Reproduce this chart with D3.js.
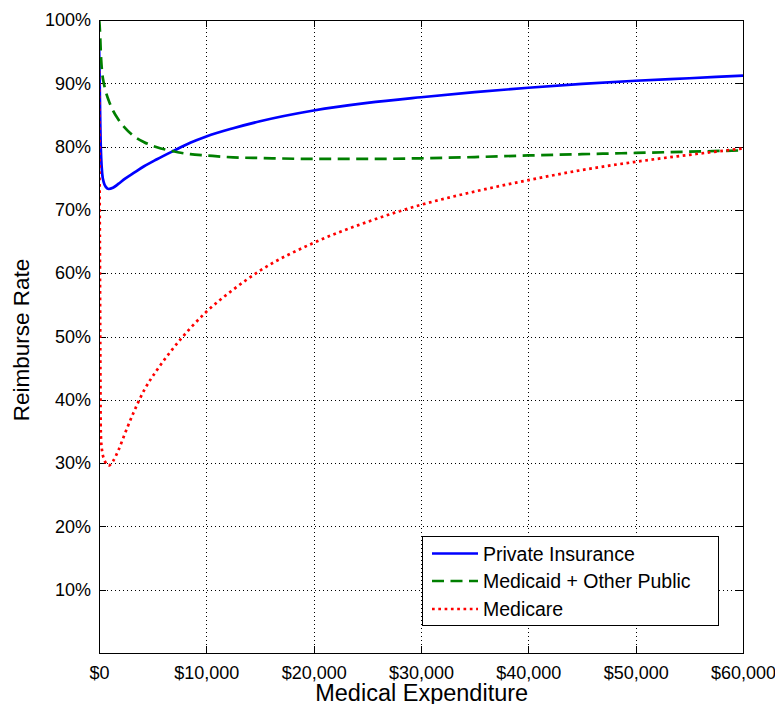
<!DOCTYPE html>
<html>
<head>
<meta charset="utf-8">
<script src="https://cdn.jsdelivr.net/npm/d3@7"></script>
<style>
  html, body { margin: 0; padding: 0; background: #fff; }
  svg { display: block; font-family: "Liberation Sans", Arial, Helvetica, sans-serif; }
</style>
</head>
<body>
<svg id="chart" width="775" height="704"></svg>
<script>
// Medical expenditure grid (USD) shared by every series
const expenditure = [0, 40, 80, 120, 160, 200, 300, 450, 650, 900, 1300, 1800, 2400, 3200, 4200,
  5400, 6800, 8500, 10000, 12500, 15000, 20000, 25000, 30000, 35000, 40000, 45000, 50000, 55000, 60000];

// Reimbursement rate (%) by payer
const privateInsurance = [96.5, 93, 88, 83.5, 80.3, 78.3, 75.7, 74.3, 73.6, 73.3, 73.5, 74.1, 74.9, 75.8, 76.9,
  78.0, 79.2, 80.6, 81.6, 82.9, 84.0, 85.7, 86.9, 87.8, 88.6, 89.3, 89.9, 90.4, 90.8, 91.2];
const medicaidOtherPublic = [100, 99.6, 98.5, 97, 95.2, 93.8, 91.6, 90.0, 88.6, 87.3, 85.7, 84.3, 83.0, 81.7, 80.7,
  79.9, 79.3, 78.8, 78.6, 78.3, 78.2, 78.05, 78.05, 78.15, 78.35, 78.6, 78.8, 79.0, 79.2, 79.4];
const medicare = [92, 80, 65, 48, 35.5, 33.5, 31.8, 30.7, 30.0, 29.6, 30.3, 32.0, 34.6, 37.9, 41.5,
  44.7, 47.9, 51.3, 53.9, 57.4, 60.4, 64.8, 68.1, 70.8, 72.9, 74.7, 76.3, 77.6, 78.7, 79.7];

const seriesNames = ["Private Insurance", "Medicaid + Other Public", "Medicare"];
const xTicks = [0, 10000, 20000, 30000, 40000, 50000, 60000];
const yTicks = [10, 20, 30, 40, 50, 60, 70, 80, 90, 100];
const xTitle = "Medical Expenditure";
const yTitle = "Reimburse Rate";

const seriesStyle = [
  { color: "#0000ff", dash: null },
  { color: "#007f00", dash: "12,6.5" },
  { color: "#ff0000", dash: "2.7,3.6" }
];
const seriesValues = [privateInsurance, medicaidOtherPublic, medicare];

const margin = { left: 99, top: 20, right: 32, bottom: 51 };
const W = 775, H = 704;
const iw = W - margin.left - margin.right;   // 644
const ih = H - margin.top - margin.bottom;   // 633

const svg = d3.select("#chart");
const g = svg.append("g").attr("transform", `translate(${margin.left},${margin.top})`);

const x = d3.scaleLinear().domain([0, 60000]).range([0, iw]);
const y = d3.scaleLinear().domain([0, 100]).range([ih, 0]);

// dotted grid
const grid = g.append("g").attr("stroke", "#000").attr("stroke-width", 1)
  .attr("stroke-dasharray", "1,3").attr("shape-rendering", "crispEdges");
grid.selectAll("line.gx").data(xTicks.filter(d => d > 0 && d < 60000)).join("line")
  .attr("x1", d => Math.round(x(d)) + 0.5).attr("x2", d => Math.round(x(d)) + 0.5)
  .attr("y1", 0).attr("y2", ih);
grid.selectAll("line.gy").data(yTicks.filter(d => d < 100)).join("line")
  .attr("y1", d => Math.round(y(d)) + 0.5).attr("y2", d => Math.round(y(d)) + 0.5)
  .attr("x1", 0).attr("x2", iw);

// axes with inward ticks on all four sides
const fmtDollar = d => "$" + d3.format(",")(d);
const fmtPct = d => d + "%";

const xAxis = g.append("g").attr("transform", `translate(0,${ih})`)
  .call(d3.axisBottom(x).tickValues(xTicks).tickFormat(fmtDollar).tickSizeInner(-7).tickSizeOuter(0).tickPadding(13));
const yAxis = g.append("g")
  .call(d3.axisLeft(y).tickValues(yTicks).tickFormat(fmtPct).tickSizeInner(-7).tickSizeOuter(0).tickPadding(8));
const topAxis = g.append("g")
  .call(d3.axisTop(x).tickValues(xTicks).tickFormat("").tickSizeInner(-7).tickSizeOuter(0));
const rightAxis = g.append("g").attr("transform", `translate(${iw},0)`)
  .call(d3.axisRight(y).tickValues(yTicks).tickFormat("").tickSizeInner(-7).tickSizeOuter(0));

[xAxis, yAxis, topAxis, rightAxis].forEach(a => {
  a.select(".domain").remove();
  a.selectAll("line").attr("stroke", "#000").attr("shape-rendering", "crispEdges");
  a.selectAll("text").attr("font-size", 18).attr("fill", "#000")
    .attr("font-family", "'Liberation Sans', Arial, sans-serif");
});

// clip for the curves
svg.append("defs").append("clipPath").attr("id", "plotclip")
  .append("rect").attr("x", 0).attr("y", 0).attr("width", iw).attr("height", ih);

const line = d3.line()
  .x((d, i) => x(expenditure[i]))
  .y(d => y(d))
  .curve(d3.curveMonotoneX);

const curves = g.append("g").attr("clip-path", "url(#plotclip)");
seriesValues.forEach((vals, k) => {
  curves.append("path")
    .datum(vals)
    .attr("fill", "none")
    .attr("stroke", seriesStyle[k].color)
    .attr("stroke-width", 2.7)
    .attr("stroke-dasharray", seriesStyle[k].dash)
    .attr("stroke-linejoin", "round")
    .attr("d", line);
});

// plot box
g.append("rect").attr("x", 0.5).attr("y", 0.5).attr("width", iw).attr("height", ih)
  .attr("fill", "none").attr("stroke", "#000").attr("stroke-width", 1)
  .attr("shape-rendering", "crispEdges");

// axis titles
svg.append("text").attr("x", 421.7).attr("y", 701).attr("text-anchor", "middle")
  .attr("font-size", 23.5).attr("fill", "#000").text(xTitle);
svg.append("text").attr("transform", "translate(28.5,340) rotate(-90)").attr("text-anchor", "middle")
  .attr("font-size", 22.5).attr("fill", "#000").text(yTitle);

// legend
const legend = svg.append("g").attr("transform", "translate(422,536)");
legend.append("rect").attr("x", 0.5).attr("y", 0.5).attr("width", 296).attr("height", 89)
  .attr("fill", "#fff").attr("stroke", "#000").attr("stroke-width", 1)
  .attr("shape-rendering", "crispEdges");
const rowY = [17.5, 45, 73];
seriesNames.forEach((name, k) => {
  legend.append("line")
    .attr("x1", 10).attr("x2", 56).attr("y1", rowY[k]).attr("y2", rowY[k])
    .attr("stroke", seriesStyle[k].color).attr("stroke-width", 2.7)
    .attr("stroke-dasharray", seriesStyle[k].dash);
  legend.append("text").attr("x", 61).attr("y", rowY[k] + 7.2)
    .attr("font-size", 19.5).attr("fill", "#000").text(name);
});
</script>
</body>
</html>
